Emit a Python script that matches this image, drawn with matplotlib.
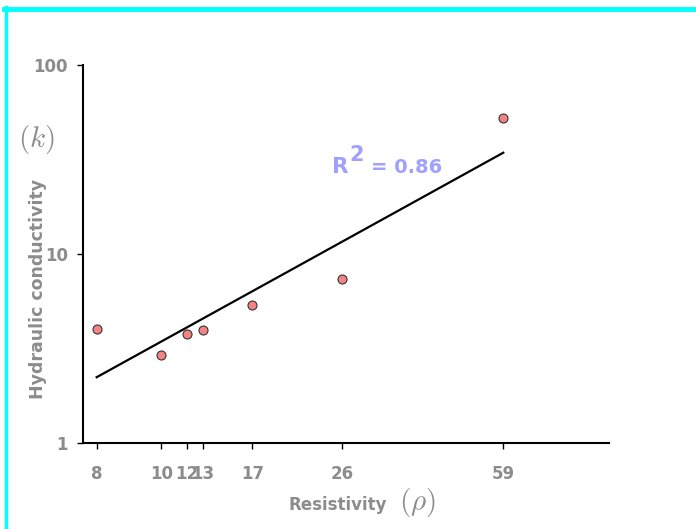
import matplotlib.pyplot as plt
import numpy as np
from matplotlib.lines import Line2D

# Данные
resistivity = [8.0, 11.0, 12.45, 13.47, 17.2, 26.7, 59.0]
conductivity = [4.0, 2.92, 3.77, 3.98, 5.37, 7.35, 52.2]
x_tick_labels = ["8", "10", "12", "13", "17", "26", "59"]
y_ticks = [1, 10, 100]
y_tick_labels = ["1", "10", "100"]

W, H = 696, 529
gray = "#8c8c8c"
plt.rcParams['mathtext.fontset'] = 'cm'

fig = plt.figure(figsize=(W / 100, H / 100), dpi=100)
ax = fig.add_axes([83 / W, 1 - 443 / H, (609 - 83) / W, (443 - 65) / H])

# Регрессия в логарифмических координатах
lx = np.log10(resistivity)
ly = np.log10(conductivity)
k, b = np.polyfit(lx, ly, 1)
r2 = np.corrcoef(lx, ly)[0, 1] ** 2
xf = np.array([min(resistivity), max(resistivity)])
ax.plot(xf, 10 ** (k * np.log10(xf) + b), color="black", lw=1.6, zorder=2)

ax.scatter(resistivity, conductivity, s=42, color="#f48484", edgecolor="#333333",
           linewidth=0.8, zorder=3)

ax.set_xscale("log")
ax.set_yscale("log")
ax.set_xlim(7.48, 99.2)
ax.set_ylim(1, 100)
ax.minorticks_off()
ax.set_xticks(resistivity)
ax.set_xticklabels(x_tick_labels)
ax.set_yticks(y_ticks)
ax.set_yticklabels(y_tick_labels)
ax.tick_params(axis="x", direction="out", length=4, width=1, pad=12,
               labelsize=12, labelcolor=gray)
ax.tick_params(axis="y", direction="out", length=4, width=1, pad=7,
               labelsize=12, labelcolor=gray)
for t in ax.get_xticklabels() + ax.get_yticklabels():
    t.set_fontweight("bold")

for s in ["top", "right"]:
    ax.spines[s].set_visible(False)
for s in ["left", "bottom"]:
    ax.spines[s].set_linewidth(1.5)

# Подписи осей
fig.text(289 / W, 1 - 510 / H, "Resistivity", fontsize=12, fontweight="bold",
         color=gray, ha="left", va="baseline")
fig.text(399 / W, 1 - 510 / H, r"$(\rho)$", fontsize=21, color=gray,
         ha="left", va="baseline")
fig.text(38 / W, 1 - 289 / H, "Hydraulic conductivity", fontsize=12.5,
         fontweight="bold", color=gray, rotation=90, ha="center", va="center")
fig.text(36 / W, 1 - 139 / H, r"$(k)$", fontsize=21, color=gray,
         ha="center", va="center")

# Коэффициент детерминации
blue = "#a0a0ff"
fig.text(332 / W, 1 - 173 / H, "R", fontsize=15.5, fontweight="bold",
         color=blue, ha="left", va="baseline")
fig.text(349 / W, 1 - 161 / H, "2", fontsize=15, fontweight="bold",
         color=blue, ha="left", va="baseline")
fig.text(371 / W, 1 - 173 / H, f"= {r2:.2f}", fontsize=14, fontweight="bold",
         color=blue, ha="left", va="baseline")

# Голубая рамка
fig.add_artist(Line2D([4 / W, 1], [1 - 9 / H, 1 - 9 / H], color="#00ffff", lw=3.5,
                      transform=fig.transFigure))
fig.add_artist(Line2D([6 / W, 6 / W], [1 - 7 / H, 0], color="#00ffff", lw=2.5,
                      transform=fig.transFigure))

fig.savefig("out.png", dpi=100)
